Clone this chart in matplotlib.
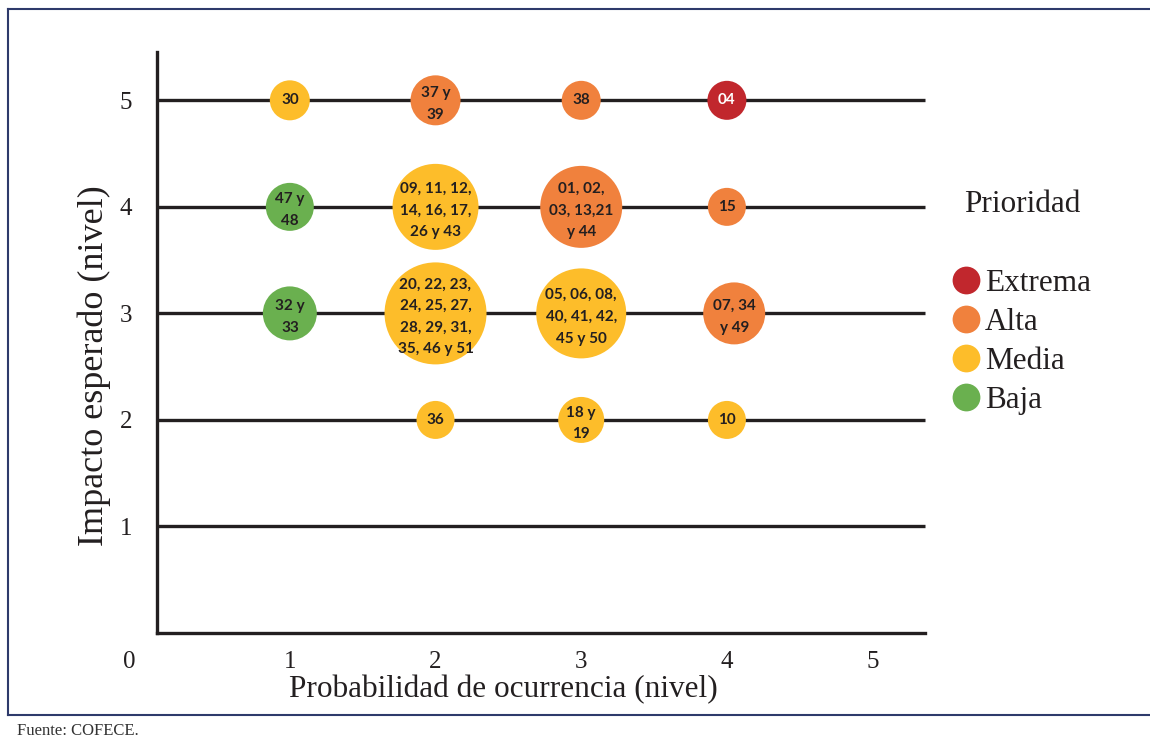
import matplotlib.pyplot as plt
from matplotlib.lines import Line2D

# bubble data: probability (x), impact (y), item list, priority, bubble diameter (px)
prob = [1, 2, 3, 4, 1, 2, 3, 4, 1, 2, 3, 4.05, 2, 3, 4]
impact = [5, 5, 5, 5, 4, 4, 4, 4, 3, 3, 3, 3, 2, 2, 2]
items = [
    "30", "37 y\n39", "38", "04",
    "47 y\n48", "09, 11, 12,\n14, 16, 17,\n26 y 43", "01, 02,\n03, 13,21\ny 44", "15",
    "32 y\n33", "20, 22, 23,\n24, 25, 27,\n28, 29, 31,\n35, 46 y 51", "05, 06, 08,\n40, 41, 42,\n45 y 50", "07, 34\ny 49",
    "36", "18 y\n19", "10",
]
priority = [
    "Media", "Alta", "Alta", "Extrema",
    "Baja", "Media", "Alta", "Alta",
    "Baja", "Media", "Media", "Alta",
    "Media", "Media", "Media",
]
diameter = [40, 50, 39, 39, 48, 86, 82, 38, 54, 102, 90, 62, 38, 46, 38]

levels = ["Extrema", "Alta", "Media", "Baja"]
colors = {"Extrema": "#C1272D", "Alta": "#F0813D", "Media": "#FDBD2A", "Baja": "#6AB04F"}

x_ticks = [-0.1, 1, 2, 3, 4, 5]
x_tick_labels = ["0", "1", "2", "3", "4", "5"]
y_ticks = [1, 2, 3, 4, 5]

SERIF = "Liberation Serif"
INK = "#231F20"

fig = plt.figure(figsize=(11.5, 7.4), dpi=100)
ax = fig.add_axes([0.1, 0.1014, 0.7348, 0.835])
ax.set_xlim(-0.2, 5.6)
ax.set_ylim(-0.3, 5.5)

x0, x1 = 0.09, 5.36
for lvl in y_ticks:
    ax.plot([x0, x1], [lvl, lvl], color=INK, lw=2.4, zorder=1, solid_capstyle="butt")

for s in ["top", "right"]:
    ax.spines[s].set_visible(False)
ax.spines["left"].set_position(("data", x0))
ax.spines["left"].set_bounds(0, 5.45)
ax.spines["bottom"].set_position(("data", 0))
ax.spines["bottom"].set_bounds(x0, x1)
for s in ["left", "bottom"]:
    ax.spines[s].set_linewidth(2.4)
    ax.spines[s].set_color(INK)

ax.scatter(prob, impact, s=[(0.72 * d) ** 2 for d in diameter],
           c=[colors[p] for p in priority], linewidths=0, zorder=3)
for x, y, t, p in zip(prob, impact, items, priority):
    # multi-line labels sit a touch below the bubble centre
    dy = 0 if "\n" not in t else -2.5
    ax.annotate(t, (x, y), xytext=(0, dy), textcoords="offset points",
                ha="center", va="center", fontsize=11, fontweight="bold",
                family="Lato", color="white" if p == "Extrema" else INK,
                linespacing=1.7, zorder=4)

ax.set_xticks(x_ticks, x_tick_labels)
ax.set_yticks(y_ticks, [str(v) for v in y_ticks])
ax.tick_params(axis="x", length=0, pad=13, labelsize=18, labelcolor=INK)
ax.tick_params(axis="y", length=0, pad=18, labelsize=18, labelcolor=INK)
for lab in ax.get_xticklabels() + ax.get_yticklabels():
    lab.set_family(SERIF)

ax.set_xlabel("Probabilidad de ocurrencia (nivel)", family=SERIF, fontsize=22.5, color=INK)
ax.xaxis.set_label_coords(0.46, -0.04)
ax.xaxis.label.set_va("center")
ax.set_ylabel("Impacto esperado (nivel)", family=SERIF, fontsize=26, color=INK)
ax.yaxis.set_label_coords(-0.025, 0.485)
ax.yaxis.label.set_va("center")

# legend
fig.text(964 / 1150, 1 - 204 / 740, "Prioridad", family=SERIF, fontsize=22.5,
         color=INK, va="center", ha="left")
handles = [Line2D([], [], marker="o", ls="", markersize=20, markerfacecolor=colors[l],
                  markeredgewidth=0) for l in levels]
fig.legend(handles, levels, loc="upper left", bbox_to_anchor=(921 / 1150, 1 - 241 / 740),
           frameon=False, prop={"family": SERIF, "size": 22.5}, handletextpad=0.05,
           labelspacing=0.32, handlelength=1.1, labelcolor=INK)

# frame around the chart
frame = "#2E3A6B"
fig.add_artist(Line2D([8 / 1150, 1], [1 - 9 / 740] * 2, color=frame, lw=1.5))
fig.add_artist(Line2D([8 / 1150] * 2, [1 - 9 / 740, 1 - 715 / 740], color=frame, lw=1.5))
fig.add_artist(Line2D([8 / 1150, 1], [1 - 715 / 740] * 2, color=frame, lw=1.5))

fig.text(17 / 1150, 1 - 731 / 740, "Fuente: COFECE.", family=SERIF, fontsize=12,
         color="#333333", va="center", ha="left")

fig.savefig("out.png", dpi=100)
